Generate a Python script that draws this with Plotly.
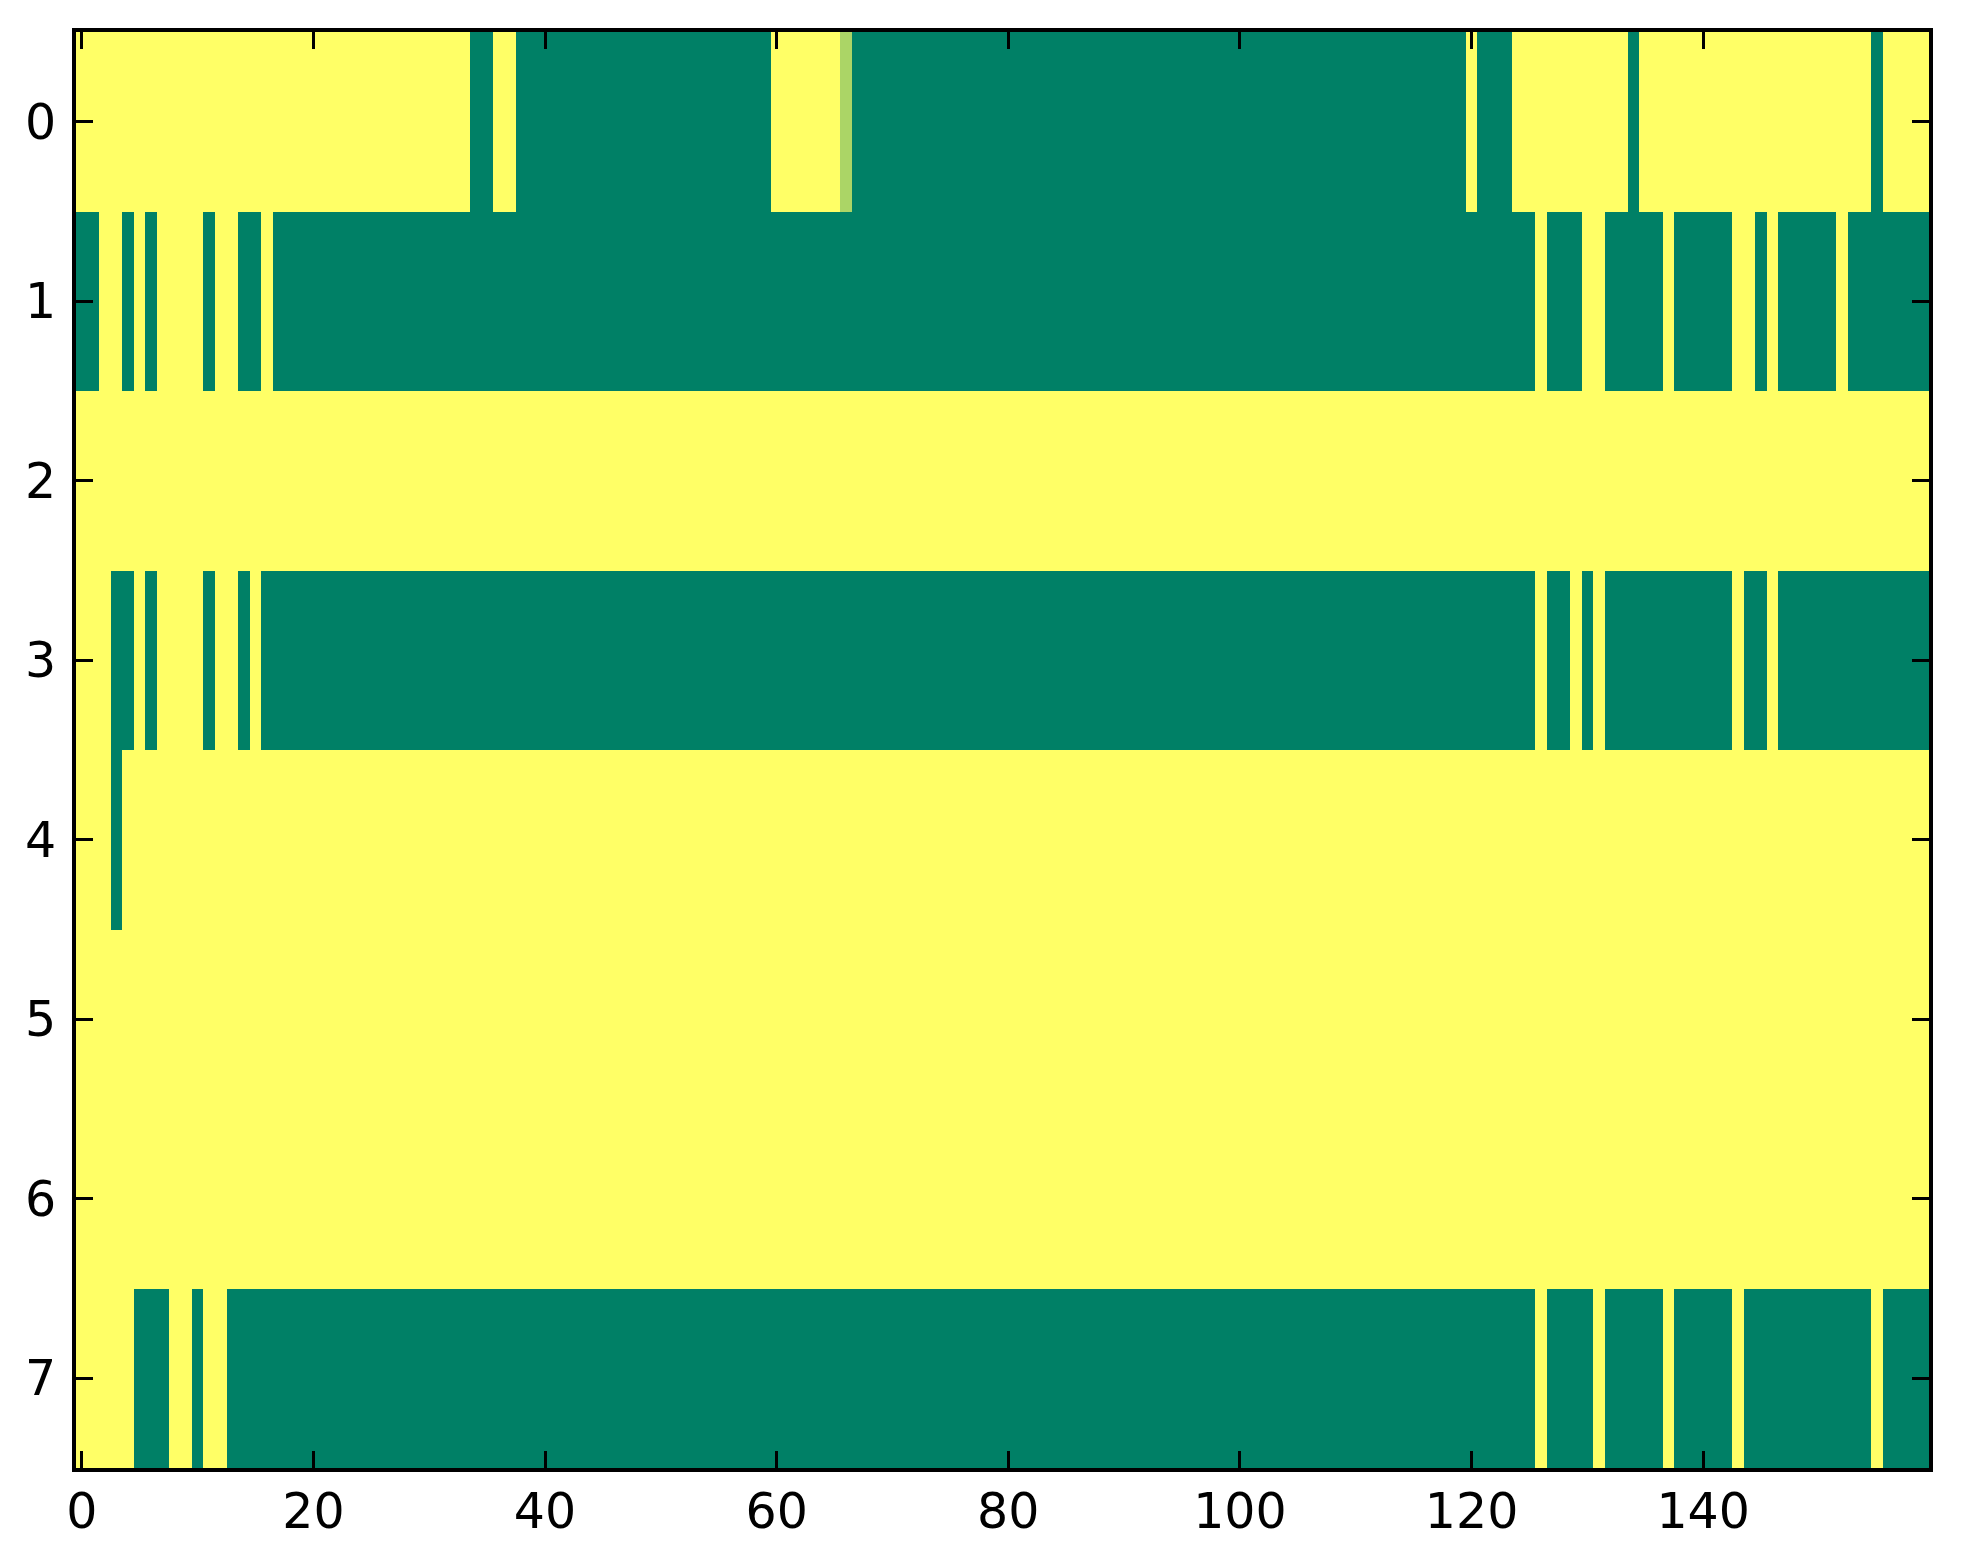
import numpy as np
import plotly.graph_objects as go

# each row of the grid as (value, run length) pairs, left to right
row_0 = [(1, 34), (0, 2), (1, 2), (0, 22), (1, 6), (0.67, 1), (0, 53), (1, 1),
         (0, 3), (1, 10), (0, 1), (1, 20), (0, 1), (1, 4)]
row_1 = [(0, 2), (1, 2), (0, 1), (1, 1), (0, 1), (1, 4), (0, 1), (1, 2), (0, 2),
         (1, 1), (0, 109), (1, 1), (0, 3), (1, 2), (0, 5), (1, 1), (0, 5), (1, 2),
         (0, 1), (1, 1), (0, 5), (1, 1), (0, 7)]
row_2 = [(1, 160)]
row_3 = [(1, 3), (0, 2), (1, 1), (0, 1), (1, 4), (0, 1), (1, 2), (0, 1), (1, 1),
         (0, 110), (1, 1), (0, 2), (1, 1), (0, 1), (1, 1), (0, 11), (1, 1), (0, 2),
         (1, 1), (0, 13)]
row_4 = [(1, 3), (0, 1), (1, 156)]
row_5 = [(1, 160)]
row_6 = [(1, 160)]
row_7 = [(1, 5), (0, 3), (1, 2), (0, 1), (1, 2), (0, 113), (1, 1), (0, 4), (1, 1),
         (0, 5), (1, 1), (0, 5), (1, 1), (0, 11), (1, 1), (0, 4)]

rows = [row_0, row_1, row_2, row_3, row_4, row_5, row_6, row_7]
x_ticks = [0, 20, 40, 60, 80, 100, 120, 140]
y_ticks = [0, 1, 2, 3, 4, 5, 6, 7]


def expand(runs):
    out = []
    for val, n in runs:
        out.extend([val] * n)
    return out


z = np.array([expand(r) for r in rows])
n_cols = z.shape[1]

# matplotlib "summer" colormap
summer = [[0.0, 'rgb(0,128,102)'], [1.0, 'rgb(255,255,102)']]

fig = go.Figure(go.Heatmap(
    z=z,
    x=np.arange(n_cols),
    y=np.arange(len(rows)),
    colorscale=summer,
    zmin=0, zmax=1,
    showscale=False,
))

axis_style = dict(
    showgrid=False,
    zeroline=False,
    showline=True,
    linecolor='black',
    linewidth=4,
    mirror='allticks',
    ticks='inside',
    ticklen=17,
    tickwidth=2.5,
    tickcolor='black',
    tickfont=dict(family='DejaVu Sans', size=49, color='black'),
    automargin=False,
)

# page body adds 8px around the figure; keep it a little smaller than the window
fig.update_layout(
    width=1940,
    height=1540,
    margin=dict(l=68, r=19, t=24, b=80),
    paper_bgcolor='white',
    plot_bgcolor='white',
    xaxis=dict(range=[-0.5, n_cols - 0.5], tickvals=x_ticks,
               ticklabelstandoff=-3, **axis_style),
    yaxis=dict(range=[len(rows) - 0.5, -0.5], tickvals=y_ticks,
               ticklabelstandoff=6, **axis_style),
)

fig.write_html("out.html")
